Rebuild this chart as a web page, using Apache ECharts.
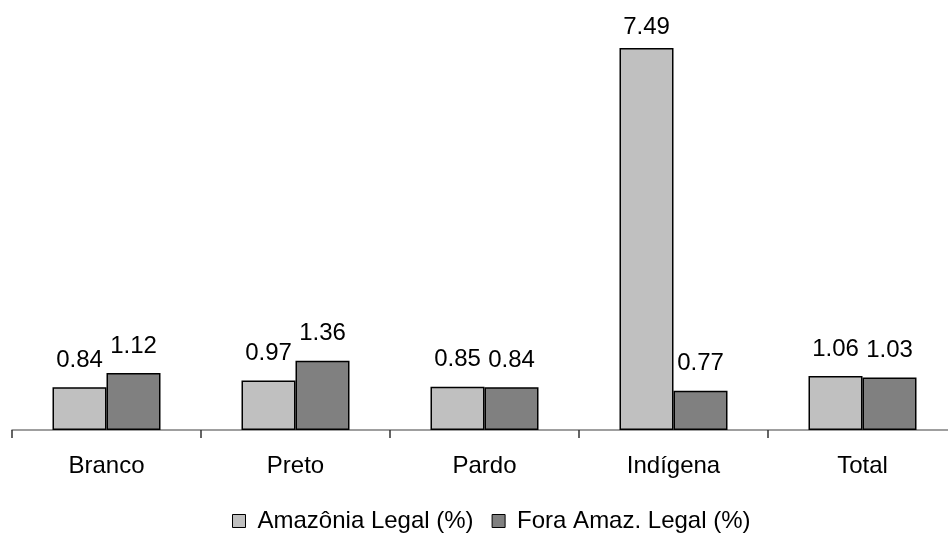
<!DOCTYPE html>
<html>
<head>
<meta charset="utf-8">
<script src="https://cdn.jsdelivr.net/npm/echarts@6/dist/echarts.min.js"></script>
<style>html,body{margin:0;padding:0;background:#fff;}#c{width:948px;height:537px;}</style>
</head>
<body>
<div id="c"></div>
<script>
const categories = ['Branco', 'Preto', 'Pardo', 'Indígena', 'Total'];
const seriesNames = ['Amazônia Legal (%)', 'Fora Amaz. Legal (%)'];
const amazonia = [0.84, 0.97, 0.85, 7.49, 1.06];
const fora = [1.12, 1.36, 0.84, 0.77, 1.03];

const FONT = '"Liberation Sans", Arial, sans-serif';
const chart = echarts.init(document.getElementById('c'), null, {renderer: 'canvas'});

function mkSeries(name, data, color) {
  const maxV = Math.max(...amazonia, ...fora);
  return {
    name: name,
    type: 'bar',
    data: data.map(v => v === maxV ? {value: v, label: {distance: 9}} : v),
    barWidth: 54,
    barGap: '0%',
    itemStyle: {color: color, borderColor: '#000', borderWidth: 1.5},
    label: {
      show: true, position: 'top', distance: 15,
      color: '#000', fontFamily: FONT, fontSize: 24,
      formatter: p => p.value.toFixed(2)
    }
  };
}

chart.setOption({
  animation: false,
  backgroundColor: '#fff',
  grid: {left: 12, top: 22, width: 945, height: 408, containLabel: false, outerBoundsMode: 'none'},
  legend: {
    data: seriesNames,
    top: 509, left: 232, padding: 0,
    icon: 'rect', itemWidth: 13, itemHeight: 13, itemGap: 18,
    textStyle: {fontFamily: FONT, fontSize: 24, color: '#000', padding: [0,0,0,7]},
    itemStyle: {borderColor: '#000', borderWidth: 1}
  },
  xAxis: {
    type: 'category', data: categories,
    axisLine: {lineStyle: {color: '#808080', width: 1.5}},
    axisTick: {show: true, length: 8, lineStyle: {color: '#333', width: 1.5}},
    axisLabel: {fontFamily: FONT, fontSize: 24, color: '#000', margin: 24}
  },
  yAxis: {
    type: 'value', min: 0, max: 8, show: false,
    splitLine: {show: false}
  },
  series: [
    mkSeries(seriesNames[0], amazonia, '#C0C0C0'),
    mkSeries(seriesNames[1], fora, '#808080')
  ]
});
</script>
</body>
</html>
